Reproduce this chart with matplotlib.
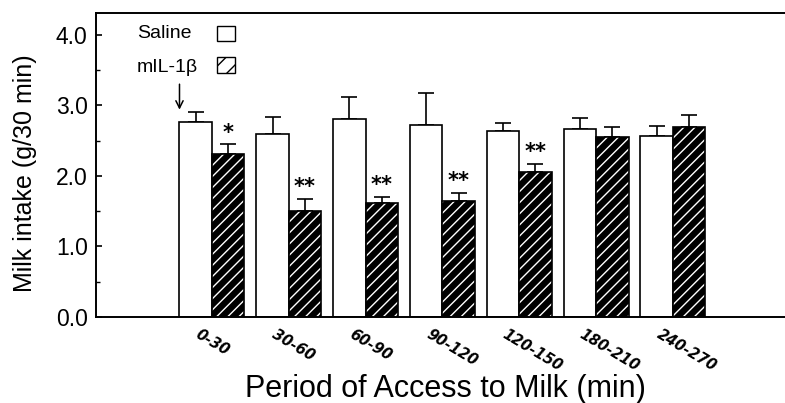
import numpy as np
import matplotlib
matplotlib.use("Agg")
import matplotlib.pyplot as plt
from matplotlib.patches import Rectangle
from matplotlib.transforms import ScaledTranslation

plt.rcParams['font.family'] = ['Liberation Sans', 'DejaVu Sans']

# data
periods = ['0-30', '30-60', '60-90', '90-120', '120-150', '180-210', '240-270']
saline = [2.77, 2.60, 2.81, 2.72, 2.63, 2.66, 2.57]
saline_err = [0.14, 0.23, 0.31, 0.46, 0.12, 0.16, 0.14]
il1b = [2.31, 1.50, 1.61, 1.64, 2.05, 2.55, 2.70]
il1b_err = [0.14, 0.18, 0.09, 0.12, 0.12, 0.15, 0.17]
signif = ['*', '**', '**', '**', '**', '', '']

x = np.arange(len(periods))
w = 0.423

fig = plt.figure(figsize=(7.85, 4.03), dpi=100)
ax = fig.add_axes([96/785, 1 - 317/403, 1 - 96/785, (317 - 13)/403])

ax.bar(x - w/2, saline, w, facecolor='white', edgecolor='black', lw=1.2, zorder=2)
# black bars with white hatching, outline drawn on top
ax.bar(x + w/2, il1b, w, facecolor='black', edgecolor='white', hatch='///', lw=0, zorder=2)
ax.bar(x + w/2, il1b, w, fill=False, edgecolor='black', lw=1.2, zorder=3)

ax.errorbar(x - w/2, saline, yerr=[np.zeros(len(x)), saline_err], fmt='none',
            ecolor='black', elinewidth=1.2, capsize=6, capthick=1.2, zorder=1)
ax.errorbar(x + w/2, il1b, yerr=[np.zeros(len(x)), il1b_err], fmt='none',
            ecolor='black', elinewidth=1.2, capsize=6, capthick=1.2, zorder=1)

for i, s in enumerate(signif):
    if s:
        ax.text(x[i] + w/2, il1b[i] + il1b_err[i] + 0.08, s, ha='center', va='baseline',
                fontsize=15, fontweight='bold', family='DejaVu Sans')

# arrow marking the injection
ax.annotate('', xy=(x[0] - w, 2.9), xytext=(x[0] - w, 3.34),
            arrowprops=dict(arrowstyle='->', color='black', lw=1.1, mutation_scale=13))

ax.set_xlim(-1.51, 7.46)
ax.set_ylim(0, 4.31)
ax.set_yticks([0, 1, 2, 3, 4])
ax.set_yticklabels(['0.0', '1.0', '2.0', '3.0', '4.0'], fontsize=16.5)
ax.set_yticks(np.arange(0.5, 4.5, 1.0), minor=True)
ax.tick_params(axis='y', which='major', direction='in', length=4, width=1.2, pad=6)
ax.tick_params(axis='y', which='minor', direction='in', length=3, width=1)
ax.set_xticks([])

off = ScaledTranslation(-19/100, -10/100, fig.dpi_scale_trans)
for i, p in enumerate(periods):
    ax.text(x[i], 0, p, transform=ax.get_xaxis_transform() + off, rotation=-31,
            ha='left', va='top', fontsize=10.5, fontweight='bold', fontstyle='italic',
            family='DejaVu Sans')

ax.spines['right'].set_visible(False)
for sp in ['left', 'top', 'bottom']:
    ax.spines[sp].set_linewidth(1.4)

ax.set_ylabel('Milk intake (g/30 min)', fontsize=18)
ax.yaxis.set_label_coords(-0.085, 0.472)
ax.set_xlabel('Period of Access to Milk (min)', fontsize=22)
ax.xaxis.set_label_coords(0.5065, -0.186)

# legend: text on the left, box on the right
ax.text(0.0595, 0.934, 'Saline', transform=ax.transAxes, fontsize=14, va='center', ha='left')
ax.text(0.0595, 0.82, 'mIL-1β', transform=ax.transAxes, fontsize=14, va='center', ha='left')
ax.add_patch(Rectangle((0.1756, 0.908), 0.026, 0.048, transform=ax.transAxes,
                       facecolor='white', edgecolor='black', lw=1, clip_on=False))
ax.add_patch(Rectangle((0.1756, 0.802), 0.026, 0.052, transform=ax.transAxes,
                       facecolor='white', edgecolor='black', hatch='//', lw=1, clip_on=False))

fig.savefig('out.png', dpi=100)
